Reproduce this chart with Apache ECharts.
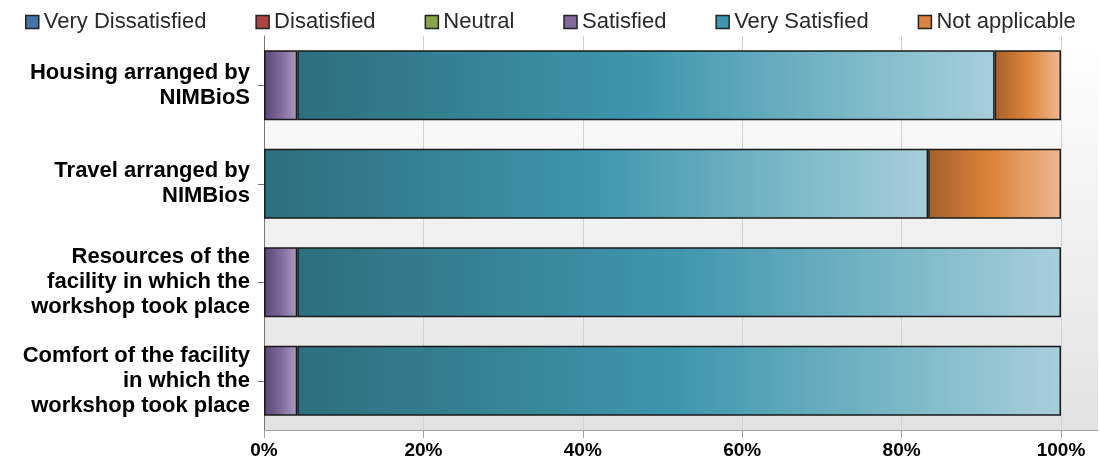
<!DOCTYPE html>
<html>
<head>
<meta charset="utf-8">
<script src="https://cdn.jsdelivr.net/npm/echarts@6/dist/echarts.min.js"></script>
<style>
html,body{margin:0;padding:0;background:#fff;}
#chart{width:1100px;height:464px;}
</style>
</head>
<body>
<div id="chart"></div>
<script>
var categories = [
  'Housing arranged by\nNIMBioS',
  'Travel arranged by\nNIMBios',
  'Resources of the\nfacility in which the\nworkshop took place',
  'Comfort of the facility\nin which the\nworkshop took place'
];
var seriesNames = ['Very Dissatisfied', 'Disatisfied', 'Neutral', 'Satisfied', 'Very Satisfied', 'Not applicable'];
var veryDissatisfied = [0, 0, 0, 0];
var dissatisfied = [0, 0, 0, 0];
var neutral = [0, 0, 0, 0];
var satisfied = [4.17, 0, 4.17, 4.17];
var verySatisfied = [87.5, 83.33, 95.83, 95.83];
var notApplicable = [8.33, 16.67, 0, 0];
var xTicks = [0, 20, 40, 60, 80, 100];

var baseColors = ['#4572A7', '#AA4643', '#89A54E', '#80699B', '#3D96AE', '#DB843D'];
var shades = [
  ['#2f4f75', '#4572A7', '#98b0cf'],
  ['#773130', '#AA4643', '#d39a98'],
  ['#607337', '#89A54E', '#bfd09c'],
  ['#5a4578', '#80699B', '#aa9dc0'],
  ['#2d6f7f', '#3f97ae', '#a6cfda'],
  ['#a6602a', '#df853c', '#edb993']
];
var allData = [veryDissatisfied, dissatisfied, neutral, satisfied, verySatisfied, notApplicable];

var chart = echarts.init(document.getElementById('chart'));
var FONT = '"Liberation Sans", Arial, sans-serif';

var series = seriesNames.map(function (name, i) {
  return {
    name: name,
    type: 'bar',
    stack: 'total',
    barWidth: 70,
    data: allData[i].map(function (v) { return v === 0 ? '-' : v; }),
    itemStyle: {
      color: new echarts.graphic.LinearGradient(0, 0, 1, 0, [
        { offset: 0, color: shades[i][0] },
        { offset: 0.5, color: shades[i][1] },
        { offset: 1, color: shades[i][2] }
      ]),
      borderColor: '#1a1a1a',
      borderWidth: 1.5
    },
    emphasis: { disabled: true },
    z: 3
  };
});

chart.setOption({
  animation: false,
  textStyle: { fontFamily: FONT },
  graphic: [
    {
      type: 'rect', z: -10, silent: true,
      shape: { x: 264, y: 36, width: 834, height: 394 },
      style: {
        fill: new echarts.graphic.LinearGradient(0, 0, 0, 1, [
          { offset: 0, color: '#ffffff' },
          { offset: 1, color: '#e2e2e2' }
        ])
      }
    },
    {
      type: 'line', z: 5, silent: true,
      shape: { x1: 264, y1: 430.5, x2: 1098, y2: 430.5 },
      style: { stroke: '#a0a0a0', lineWidth: 1 }
    }
  ],
  legend: {
    top: 6,
    left: 20,
    itemGap: 49,
    itemWidth: 13,
    itemHeight: 13,
    icon: 'rect',
    textStyle: { fontSize: 22, color: '#2a2a2a', fontFamily: FONT },
    data: seriesNames.map(function (n, i) {
      return { name: n, itemStyle: { color: baseColors[i], borderColor: '#222', borderWidth: 1.5 } };
    })
  },
  grid: { left: 264, right: 39, top: 36, bottom: 34, containLabel: false },
  xAxis: {
    type: 'value',
    min: 0,
    max: 100,
    interval: 20,
    axisLine: { show: false },
    axisTick: { show: true, length: 8, lineStyle: { color: '#a0a0a0' } },
    splitLine: { show: true, lineStyle: { color: '#d2d2d2', width: 1 } },
    axisLabel: {
      formatter: function (v) { return xTicks.indexOf(v) >= 0 ? v + '%' : ''; },
      fontSize: 19, fontWeight: 'bold', color: '#000', margin: 11, fontFamily: FONT
    }
  },
  yAxis: {
    type: 'category',
    inverse: true,
    data: categories,
    axisLine: { show: true, lineStyle: { color: '#777', width: 1 } },
    axisTick: { show: true, alignWithLabel: true, length: 6, lineStyle: { color: '#777' } },
    axisLabel: {
      fontSize: 22, fontWeight: 'bold', color: '#000', lineHeight: 25, margin: 14,
      align: 'right', fontFamily: FONT
    }
  },
  series: series
});
</script>
</body>
</html>
